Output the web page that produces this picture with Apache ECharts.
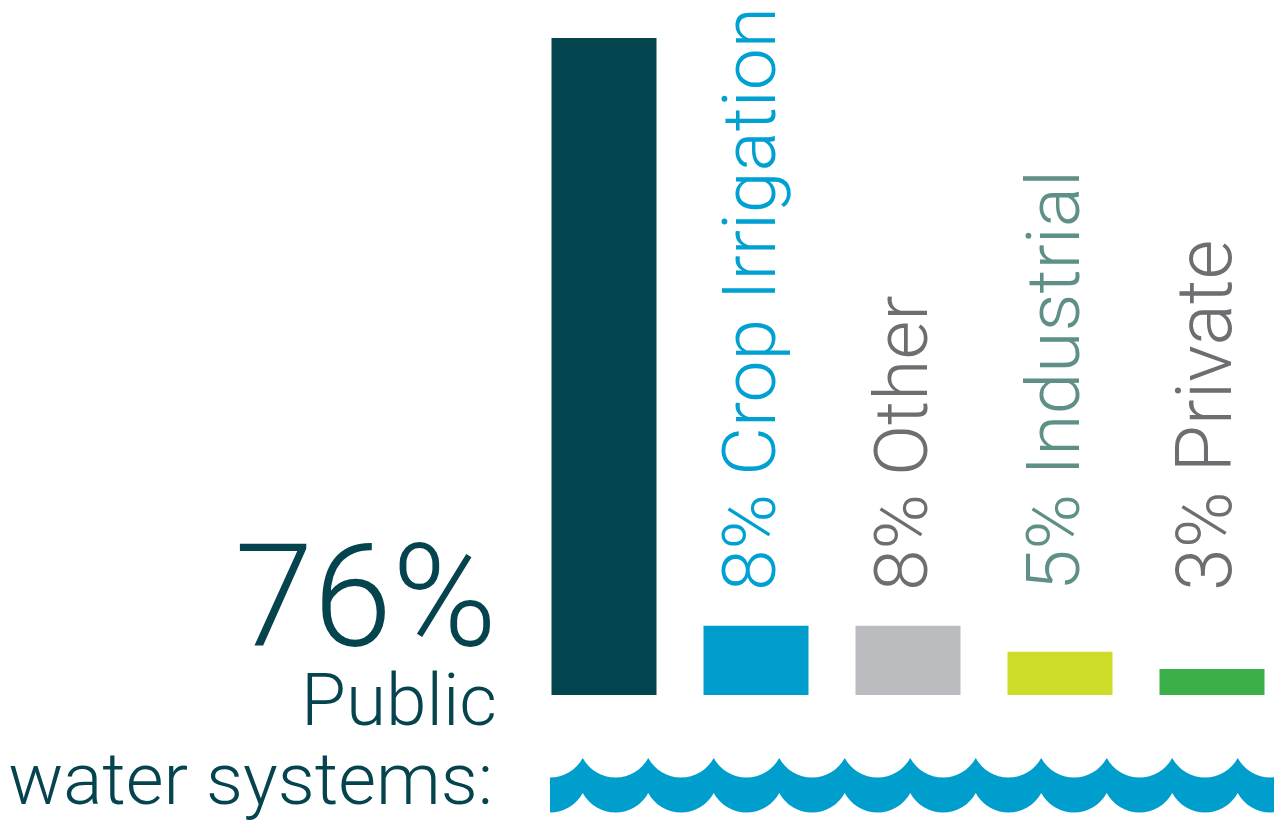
<!DOCTYPE html>
<html>
<head>
<meta charset="utf-8">
<script src="https://cdn.jsdelivr.net/npm/echarts@6/dist/echarts.min.js"></script>
<style>
html,body{margin:0;padding:0;background:#fff;}
#chart{width:1274px;height:822px;}
</style>
</head>
<body>
<div id="chart"></div>
<script>
var categories = ['Public water systems', 'Crop Irrigation', 'Other', 'Industrial', 'Private'];
var values = [76, 8, 8, 5, 3];
var labelTexts = ['', '8% Crop Irrigation', '8% Other', '5% Industrial', '3% Private'];
var barColors = ['#03454f', '#009dcc', '#bbbcbf', '#cddc29', '#3daf4a'];
var labelColors = ['#03454f', '#00a0d2', '#6d6e71', '#5e9088', '#6d6e71'];
var headline = ['76%', 'Public', 'water systems:'];

var FONT = 'Roboto, "Liberation Sans", sans-serif';
var chart = echarts.init(document.getElementById('chart'), null, {renderer: 'canvas'});

var option = {
  animation: false,
  backgroundColor: '#ffffff',
  grid: {left: 528, width: 760, top: 38, bottom: 127, containLabel: false, outerBoundsMode: 'none'},
  xAxis: {type: 'category', data: categories, show: false},
  yAxis: {type: 'value', min: 0, max: 76, show: false},
  series: [{
    type: 'bar',
    barWidth: 105,
    data: values.map(function (v, i) { return {value: v, itemStyle: {color: barColors[i]}}; })
  }]
};
chart.setOption(option);

// decorative wave band (geometry, not data)
function arcPoints(cx, cy, r, a0, a1, n) {
  var pts = [];
  for (var k = 0; k <= n; k++) {
    var a = a0 + (a1 - a0) * k / n;
    pts.push([cx + r * Math.cos(a), cy + r * Math.sin(a)]);
  }
  return pts;
}
function wavePoints(x0, x1, yTop, band, period, depth) {
  var r = (period * period / 4 + depth * depth) / (2 * depth);
  var half = period / 2;
  var alpha = Math.asin(half / r);
  var pts = [];
  var cusps = [];
  for (var c = x0 - half; c <= x1 + period; c += period) cusps.push(c);
  for (var j = 0; j < cusps.length - 1; j++) {
    var cx = cusps[j] + half;
    var cy = yTop + depth - r;
    pts = pts.concat(arcPoints(cx, cy, r, Math.PI / 2 + alpha, Math.PI / 2 - alpha, 16));
  }
  var bottom = [];
  for (var j2 = 0; j2 < cusps.length - 1; j2++) {
    var cx2 = cusps[j2] + half;
    var cy2 = yTop + band + depth - r;
    bottom = bottom.concat(arcPoints(cx2, cy2, r, Math.PI / 2 + alpha, Math.PI / 2 - alpha, 16));
  }
  bottom.reverse();
  pts = pts.concat(bottom);
  return pts.map(function (p) { return [Math.max(x0, Math.min(x1, p[0])), p[1]]; });
}

var graphics = [];
graphics.push({
  type: 'polygon',
  shape: {points: wavePoints(550, 1274, 758, 35, 65.5, 19.5)},
  style: {fill: '#009ecd'},
  silent: true
});

// rotated labels above small bars
var labelSizes = [0, 75, 75, 75, 77];
for (var i = 1; i < categories.length; i++) {
  var px = chart.convertToPixel({xAxisIndex: 0}, categories[i]);
  graphics.push({
    type: 'text',
    x: px,
    y: 591,
    rotation: Math.PI / 2,
    style: {
      text: labelTexts[i],
      fill: labelColors[i],
      font: '300 ' + labelSizes[i] + 'px ' + FONT,
      align: 'left',
      verticalAlign: 'middle'
    }
  });
}

// headline text on the left
graphics.push({type: 'text', x: 497, y: 681, style: {text: headline[0], fill: '#05444f', font: '300 142px ' + FONT, align: 'right', verticalAlign: 'bottom'}});
graphics.push({type: 'text', x: 497, y: 743, style: {text: headline[1], fill: '#05444f', font: '300 73px ' + FONT, align: 'right', verticalAlign: 'bottom'}});
graphics.push({type: 'text', x: 493, y: 822, style: {text: headline[2], fill: '#05444f', font: '300 73px ' + FONT, align: 'right', verticalAlign: 'bottom'}});

chart.setOption({graphic: graphics});
</script>
</body>
</html>
